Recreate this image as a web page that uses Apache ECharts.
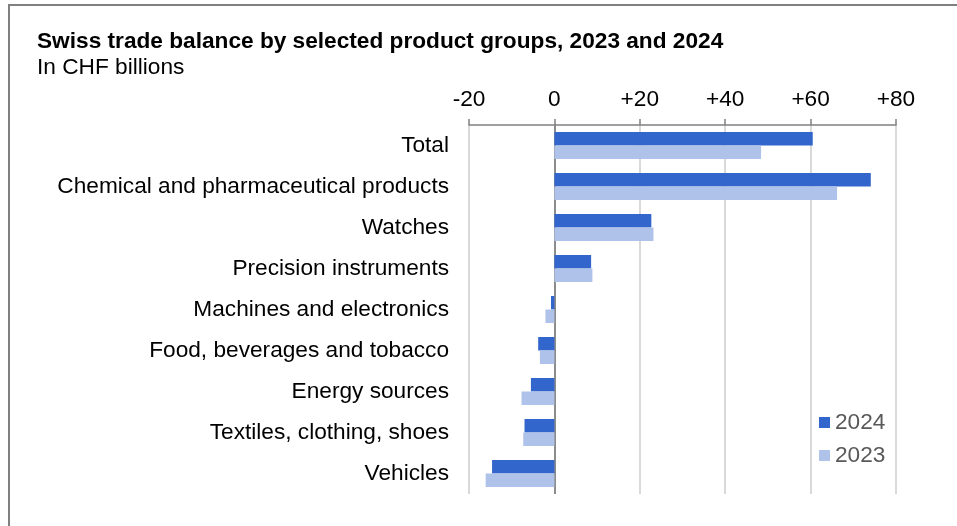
<!DOCTYPE html>
<html>
<head>
<meta charset="utf-8">
<script src="https://cdn.jsdelivr.net/npm/echarts@6/dist/echarts.min.js"></script>
<style>
  html, body { margin: 0; padding: 0; background: #ffffff; }
  #chart { width: 957px; height: 526px; }
</style>
</head>
<body>
<div id="chart"></div>
<script>
// Product groups, top to bottom
const categories = [
  'Total',
  'Chemical and pharmaceutical products',
  'Watches',
  'Precision instruments',
  'Machines and electronics',
  'Food, beverages and tobacco',
  'Energy sources',
  'Textiles, clothing, shoes',
  'Vehicles'
];
// Trade balance, CHF billions
const values2024 = [60.5, 74.1, 22.7, 8.6, -0.8, -3.8, -5.5, -7.0, -14.6];
const values2023 = [48.4, 66.2, 23.2, 8.9, -2.1, -3.4, -7.7, -7.3, -16.1];
const seriesNames = ['2024', '2023'];
// Value axis ticks
const tickValues = [-20, 0, 20, 40, 60, 80];

const FONT = 'Liberation Sans, Arial, sans-serif';
const FS = 22.67;
const chart = echarts.init(document.getElementById('chart'), null, { renderer: 'canvas' });

// zero line darker than the other gridlines
const splitColors = tickValues.map(v => (v === 0 ? '#8c8c8c' : '#d9d9d9'));

chart.setOption({
  backgroundColor: '#ffffff',
  animation: false,
  textStyle: { fontFamily: FONT },
  title: [
    {
      text: 'Swiss trade balance by selected product groups, 2023 and 2024',
      left: 37, top: 30, padding: 0,
      textStyle: { fontFamily: FONT, fontSize: FS, fontWeight: 'bold', color: '#000000' }
    },
    {
      text: 'In CHF billions',
      left: 37, top: 56, padding: 0,
      textStyle: { fontFamily: FONT, fontSize: FS, fontWeight: 'normal', color: '#000000' }
    }
  ],
  graphic: [
    {
      type: 'rect',
      shape: { x: 9, y: 5, width: 1200, height: 800 },
      style: { fill: 'none', stroke: '#808080', lineWidth: 2 },
      silent: true
    }
  ],
  legend: {
    orient: 'vertical',
    left: 819, top: 411, padding: 0,
    itemWidth: 11, itemHeight: 11, itemGap: 10,
    icon: 'rect',
    data: seriesNames,
    textStyle: { fontFamily: FONT, fontSize: FS, color: '#595959' }
  },
  grid: { left: 469, right: 61, top: 125, height: 369 },
  xAxis: {
    type: 'value',
    position: 'top',
    min: tickValues[0],
    max: tickValues[tickValues.length - 1],
    interval: 20,
    axisLine: { show: true, lineStyle: { color: '#808080', width: 1.5 } },
    axisTick: { show: true, length: 6, lineStyle: { color: '#808080', width: 1.5 } },
    splitLine: { show: true, lineStyle: { color: splitColors, width: 2 } },
    axisLabel: {
      fontFamily: FONT, fontSize: FS, color: '#000000', margin: 14,
      formatter: v => (v > 0 ? '+' + v : String(v))
    }
  },
  yAxis: {
    type: 'category',
    inverse: true,
    data: categories,
    axisLine: { show: false },
    axisTick: { show: false },
    axisLabel: { fontFamily: FONT, fontSize: FS, color: '#000000', margin: 20 }
  },
  series: [
    {
      name: seriesNames[0], type: 'bar', data: values2024,
      barGap: '0%', barCategoryGap: '34%',
      itemStyle: { color: '#3366cc' }
    },
    {
      name: seriesNames[1], type: 'bar', data: values2023,
      barGap: '0%', barCategoryGap: '34%',
      itemStyle: { color: '#afc3ea' }
    }
  ]
});
</script>
</body>
</html>
